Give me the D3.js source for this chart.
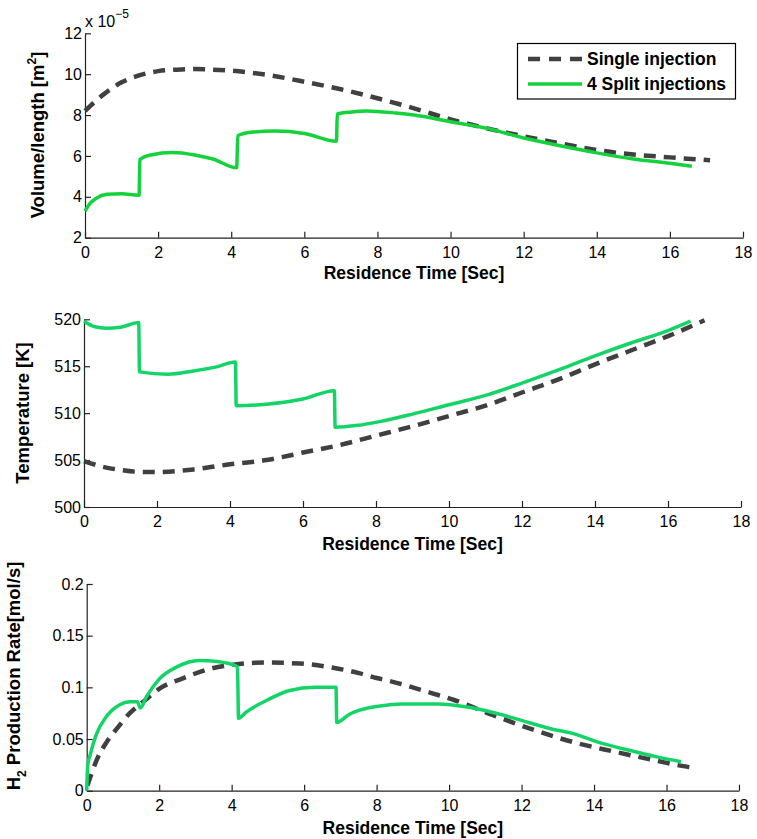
<!DOCTYPE html>
<html>
<head>
<meta charset="utf-8">
<script src="https://cdn.jsdelivr.net/npm/d3@7"></script>
<style>
  body { margin: 0; background: #fff; }
  svg { display: block; font-family: "Liberation Sans", Arial, sans-serif; }
  .tick text { font-size: 16px; fill: #000; }
  .domain, .tick line { stroke: #222; stroke-width: 1.2; }
</style>
</head>
<body>
<div id="chart"></div>
<script>
// x ticks shared by all three panels
const timeTicks = [0, 2, 4, 6, 8, 10, 12, 14, 16, 18];

// Panel 1: volume/length (x 1e-5 m^2)
const volTicks = [2, 4, 6, 8, 10, 12];
const volSingle = [
  [0, 8.2], [0.5, 9.0], [1, 9.6], [1.5, 9.95], [2, 10.15], [2.5, 10.22], [3, 10.25],
  [3.5, 10.22], [4, 10.17], [5, 9.96], [6, 9.63], [7, 9.26], [8, 8.82], [9, 8.33],
  [10, 7.79], [11, 7.35], [12, 6.96], [13, 6.62], [14, 6.29], [15, 6.07], [16, 5.93], [17.1, 5.79]
];
const volSplit = [
  [0, 3.3], [0.15, 3.7], [0.3, 3.92], [0.6, 4.12], [1.0, 4.15], [1.48, 4.08],
  [1.5, 5.82], [1.8, 6.05], [2.4, 6.17], [3.0, 6.05], [3.5, 5.85], [4.15, 5.42],
  [4.18, 7.0], [4.6, 7.17], [5.2, 7.22], [6.0, 7.1], [6.88, 6.72],
  [6.9, 8.05], [7.3, 8.15], [7.7, 8.2], [8.5, 8.1], [9, 8.0], [10, 7.67], [11, 7.35],
  [12, 6.88], [13, 6.5], [14, 6.15], [15, 5.85], [16, 5.64], [16.6, 5.5]
];

// Panel 2: temperature [K]
const tempTicks = [500, 505, 510, 515, 520];
const tempSingle = [
  [0, 504.9], [0.5, 504.3], [1, 503.95], [1.5, 503.75], [2, 503.73], [3, 504.0],
  [4, 504.55], [5, 505.0], [6, 505.8], [7, 506.6], [8, 507.6], [9, 508.6], [10, 509.7],
  [11, 510.8], [12, 512.2], [13, 513.6], [14, 515.2], [15, 516.7], [16, 518.2], [17.0, 519.9]
];
const tempSplit = [
  [0, 519.8], [0.3, 519.2], [0.6, 519.05], [1.0, 519.15], [1.5, 519.65],
  [1.52, 514.4], [2.3, 514.15], [3.0, 514.5], [3.6, 514.9], [4.15, 515.45],
  [4.17, 510.8], [5.0, 510.95], [6.0, 511.5], [6.86, 512.4],
  [6.88, 508.5], [7.5, 508.7], [8.1, 509.1], [9, 509.9], [10, 510.9], [11, 511.9],
  [12, 513.2], [13, 514.6], [14, 516.1], [15, 517.5], [16, 518.8], [16.62, 519.8]
];

// Panel 3: H2 production rate [mol/s]
const h2Ticks = [0, 0.05, 0.1, 0.15, 0.2];
const h2Single = [
  [0.02, 0.005], [0.28, 0.03], [0.55, 0.047], [0.83, 0.06], [1.19, 0.075], [1.56, 0.086],
  [2.02, 0.099], [2.67, 0.109], [3.31, 0.117], [4.05, 0.122], [4.97, 0.124], [5.89, 0.123],
  [6.8, 0.119], [7.54, 0.1135], [8.0, 0.109], [8.37, 0.106], [9.56, 0.094], [10.12, 0.088],
  [11.22, 0.073], [12.32, 0.059], [13.43, 0.047], [14.53, 0.038], [15.73, 0.029],
  [16.42, 0.024], [16.78, 0.022]
];
const h2Split = [
  [0, 0.0], [0.03, 0.025], [0.1, 0.035], [0.25, 0.053], [0.55, 0.072], [0.9, 0.083],
  [1.2, 0.086], [1.4, 0.086], [1.48, 0.08], [1.65, 0.091], [2.0, 0.108], [2.5, 0.12],
  [3.1, 0.126], [3.6, 0.125], [4.16, 0.12],
  [4.19, 0.07], [4.4, 0.076], [5.0, 0.088], [5.6, 0.097], [6.3, 0.1], [6.88, 0.1],
  [6.9, 0.066], [7.25, 0.074], [8.1, 0.082], [8.7, 0.084], [9.7, 0.084], [10.5, 0.081],
  [11.3, 0.075], [12.0, 0.068], [12.8, 0.06], [13.4, 0.0555], [14.2, 0.046],
  [15.1, 0.038], [15.7, 0.033], [16.4, 0.028]
];

const seriesNames = ["Single injection", "4 Split injections"];

const W = 757, H = 839;
const svg = d3.select("#chart").append("svg").attr("width", W).attr("height", H);

// Panel boxes in pixels (left, right, top, bottom)
const panels = [
  { box: [85, 743, 33.3, 237.7], yTicks: volTicks, single: volSingle, split: volSplit,
    green: "#14d23c", ylabX: 44, ylabY: 135, xlabY: 279, fmt: d3.format("d") },
  { box: [84, 741, 319.3, 507], yTicks: tempTicks, single: tempSingle, split: tempSplit,
    green: "#14d468", ylabX: 29, ylabY: 413, xlabY: 550, fmt: d3.format("d") },
  { box: [86.7, 739, 584, 790.7], yTicks: h2Ticks, single: h2Single, split: h2Split,
    green: "#14d468", ylabX: 20, ylabY: 676, xlabY: 834, fmt: (d) => String(+d.toFixed(2)) }
];

panels.forEach((p, i) => {
  const [l, r, t, b] = p.box;
  const x = d3.scaleLinear().domain([0, 18]).range([l, r]);
  const y = d3.scaleLinear().domain(d3.extent(p.yTicks)).range([b, t]);

  // Axes with inward ticks, no box
  svg.append("g")
    .attr("transform", `translate(0,${b})`)
    .call(d3.axisBottom(x).tickValues(timeTicks).tickSizeInner(-6).tickSizeOuter(0).tickPadding(8))
    .call((g) => g.selectAll(".tick text").attr("dy", "0.75em"));

  svg.append("g")
    .attr("transform", `translate(${l},0)`)
    .call(d3.axisLeft(y).tickValues(p.yTicks).tickFormat(p.fmt).tickSizeInner(-6).tickSizeOuter(0).tickPadding(3));

  const line = d3.line().x((d) => x(d[0])).y((d) => y(d[1])).curve(d3.curveMonotoneX);

  svg.append("path")
    .datum(p.single)
    .attr("d", line)
    .attr("fill", "none")
    .attr("stroke", "#404040")
    .attr("stroke-width", 4.5)
    .attr("stroke-dasharray", "12,8");

  svg.append("path")
    .datum(p.split)
    .attr("d", line)
    .attr("fill", "none")
    .attr("stroke", p.green)
    .attr("stroke-width", 3.5)
    .attr("stroke-linejoin", "round");

  // x axis title
  svg.append("text")
    .attr("x", (l + r) / 2)
    .attr("y", p.xlabY)
    .attr("text-anchor", "middle")
    .attr("font-size", 17.5)
    .attr("font-weight", "bold")
    .text("Residence Time [Sec]");

  // y axis title
  const yl = svg.append("text")
    .attr("transform", `translate(${p.ylabX},${p.ylabY}) rotate(-90)`)
    .attr("text-anchor", "middle")
    .attr("font-size", 18.5)
    .attr("font-weight", "bold");
  if (i === 0) {
    yl.append("tspan").text("Volume/length [m");
    yl.append("tspan").attr("font-size", 12).attr("dy", -8).text("2");
    yl.append("tspan").attr("dy", 8).text("]");
  } else if (i === 1) {
    yl.text("Temperature [K]");
  } else {
    yl.append("tspan").text("H");
    yl.append("tspan").attr("font-size", 12).attr("dy", 6).text("2");
    yl.append("tspan").attr("dy", -6).text(" Production Rate[mol/s]");
  }
});

// exponent label for top panel
const ex = svg.append("text").attr("x", 85).attr("y", 27).attr("font-size", 16);
ex.append("tspan").text("x 10");
ex.append("tspan").attr("font-size", 12).attr("dy", -9).text("\u22125");

// Legend
const lg = svg.append("g");
lg.append("rect")
  .attr("x", 517.5).attr("y", 43.5).attr("width", 218).attr("height", 55.5)
  .attr("fill", "#fff").attr("stroke", "#000").attr("stroke-width", 1.2);
const legendColors = ["#404040", panels[0].green];
seriesNames.forEach((name, k) => {
  const ly = 59 + k * 25;
  lg.append("line")
    .attr("x1", 528).attr("x2", 582).attr("y1", ly).attr("y2", ly)
    .attr("stroke", legendColors[k])
    .attr("stroke-width", k === 0 ? 4.5 : 3.5)
    .attr("stroke-dasharray", k === 0 ? "12,9" : null);
  lg.append("text")
    .attr("x", 587).attr("y", ly + 6)
    .attr("font-size", 17.5)
    .attr("font-weight", "bold")
    .text(name);
});
</script>
</body>
</html>
